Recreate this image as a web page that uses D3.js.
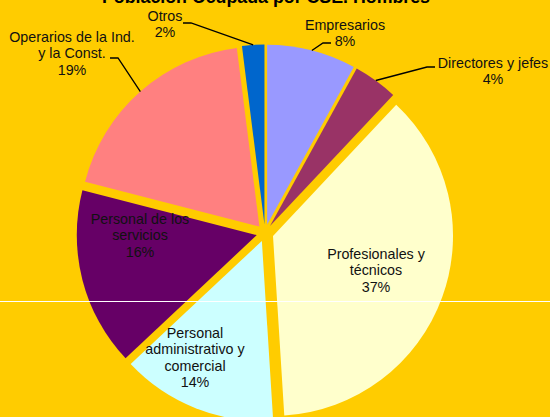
<!DOCTYPE html>
<html>
<head>
<meta charset="utf-8">
<script src="https://cdn.jsdelivr.net/npm/d3@7"></script>
<style>
  html, body { margin: 0; padding: 0; background: #FFCC00; }
  svg { display: block; font-family: "Liberation Sans", Arial, sans-serif; }
  .lbl { font-size: 14.3px; fill: #111; }
  .leader { fill: none; stroke: #000; stroke-width: 1.3; }
</style>
</head>
<body>
<div id="chart"></div>
<script>
// data, clockwise from 12 o'clock
var categories = ["Empresarios", "Directores y jefes", "Profesionales y técnicos",
    "Personal administrativo y comercial", "Personal de los servicios",
    "Operarios de la Ind. y la Const.", "Otros"];
var values = [8, 4, 37, 14, 16, 19, 2];
var labelLines = [
    ["Empresarios"], ["Directores y jefes"], ["Profesionales y", "técnicos"],
    ["Personal", "administrativo y", "comercial"], ["Personal de los", "servicios"],
    ["Operarios de la Ind.", "y la Const."], ["Otros"]
];
var colors = ["#9999FF", "#993366", "#FFFFCC", "#CCFFFF", "#660066", "#FF8080", "#0066CC"];
var title = "Población Ocupada por CSE. Hombres";

var width = 550, height = 417;
var cx = 265, cy = 233, radius = 180, explode = 8.5;

// label layout relative to pie centre (outside labels: elbow point of leader, side of text)
// tx = text centre, ty = first baseline
var layout = {
    "Empresarios": { outside: true, ex: 58, ey: -190, side: 1, tx: 80, ty: -203 },
    "Directores y jefes": { outside: true, ex: 162, ey: -166, side: 1, tx: 228, ty: -165 },
    "Profesionales y técnicos": { outside: false, tx: 111, ty: 26 },
    "Personal administrativo y comercial": { outside: false, tx: -70, ty: 105 },
    "Personal de los servicios": { outside: false, tx: -125, ty: -9 },
    "Operarios de la Ind. y la Const.": { outside: true, ex: -147, ey: -175, side: -1, tx: -193, ty: -191 },
    "Otros": { outside: true, ex: -74, ey: -210, side: -1, tx: -100, ty: -212 }
};
var lineH = 16.3;

var data = categories.map(function(c, i) {
    return { name: c, value: values[i], color: colors[i], lines: labelLines[i] };
});

var svg = d3.select("#chart").append("svg")
    .attr("width", width)
    .attr("height", height);

svg.append("rect").attr("width", width).attr("height", height).attr("fill", "#FFCC00");

svg.append("text")
    .attr("x", 266).attr("y", 3)
    .attr("text-anchor", "middle")
    .style("font-size", "17.8px").style("font-weight", "bold").style("fill", "#000")
    .text(title);

var pie = d3.pie().sort(null).value(function(d) { return d.value; });
var arc = d3.arc().innerRadius(0).outerRadius(radius);
var arcs = pie(data);

var g = svg.append("g").attr("transform", "translate(" + cx + "," + cy + ")");

function offset(d, r) {
    var a = (d.startAngle + d.endAngle) / 2;
    return [Math.sin(a) * r, -Math.cos(a) * r];
}

g.selectAll("path.slice")
    .data(arcs)
    .enter()
    .append("path")
    .attr("class", "slice")
    .attr("transform", function(d) {
        var o = offset(d, explode);
        return "translate(" + o[0] + "," + o[1] + ")";
    })
    .attr("d", arc)
    .attr("fill", function(d) { return d.data.color; });

// leader lines for outside labels
arcs.forEach(function(d) {
    var L = layout[d.data.name];
    if (!L.outside) return;
    var p = offset(d, radius + explode);
    g.append("path")
        .attr("class", "leader")
        .attr("d", "M" + p[0] + "," + p[1] + "L" + L.ex + "," + L.ey + "l" + (L.side * 8) + ",0");
});

// labels
arcs.forEach(function(d) {
    var L = layout[d.data.name];
    var lines = d.data.lines.concat([d.data.value + "%"]);
    var t = g.append("text")
        .attr("class", "lbl")
        .attr("text-anchor", "middle");
    lines.forEach(function(s, i) {
        t.append("tspan").attr("x", L.tx).attr("y", L.ty + i * lineH).text(s);
    });
});

// thin white rule across the picture
svg.append("line")
    .attr("x1", 0).attr("x2", width)
    .attr("y1", 301.5).attr("y2", 301.5)
    .attr("stroke", "#fff").attr("stroke-width", 1);
</script>
</body>
</html>
